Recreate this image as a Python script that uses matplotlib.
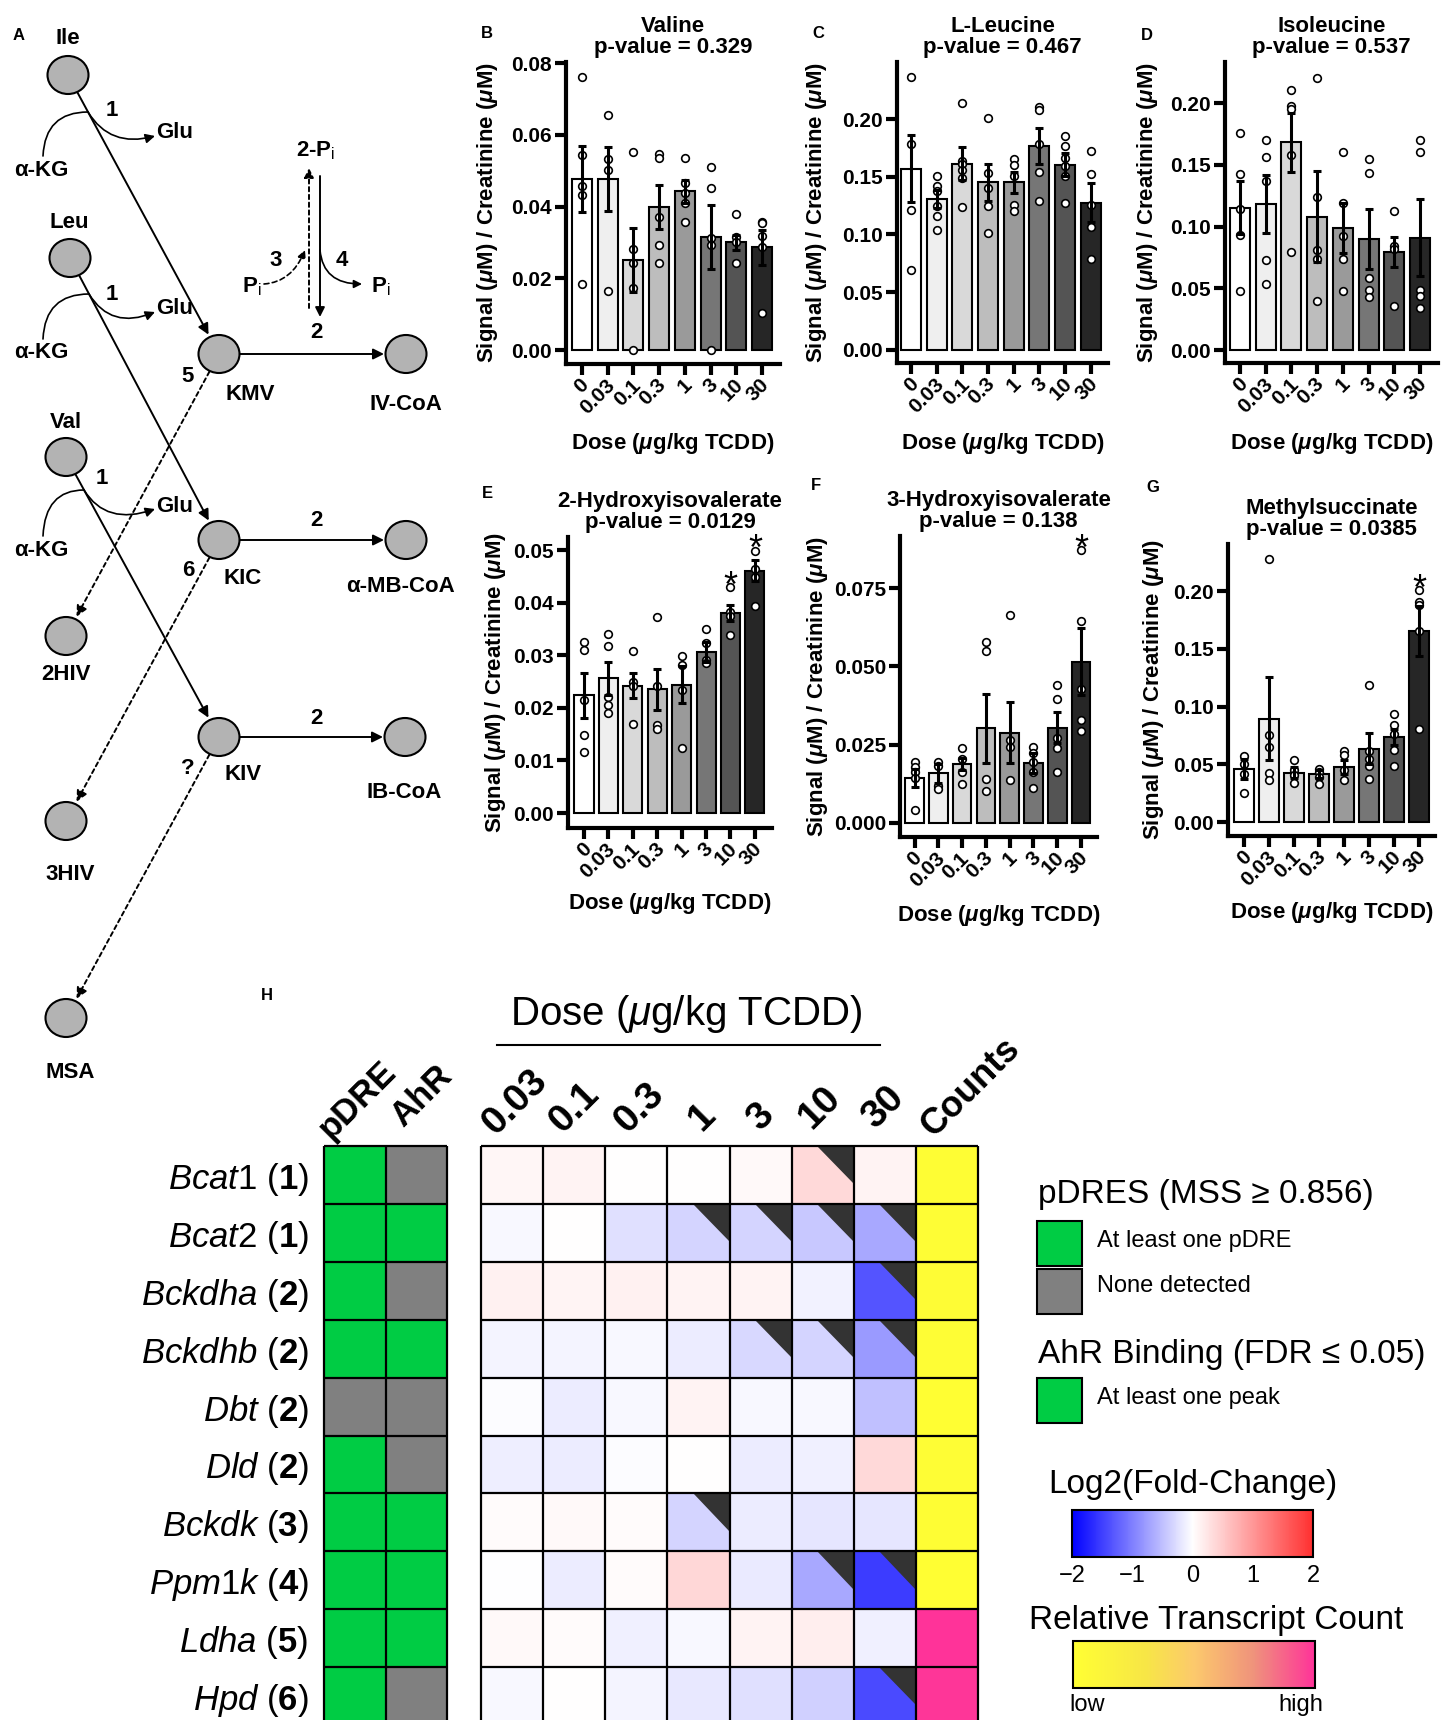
import numpy as np
import matplotlib
matplotlib.use('Agg')
import matplotlib.pyplot as plt
import matplotlib.transforms as mtransforms
from matplotlib.patches import Ellipse, Rectangle, Polygon, FancyArrowPatch
from matplotlib.path import Path
from matplotlib.colors import LinearSegmentedColormap, ListedColormap, Normalize
from matplotlib.cm import ScalarMappable

plt.rcParams['font.family'] = ['Liberation Sans', 'DejaVu Sans']
plt.rcParams['font.sans-serif'] = ['Liberation Sans']
plt.rcParams['mathtext.fontset'] = 'custom'
plt.rcParams['mathtext.rm'] = 'Liberation Sans'
plt.rcParams['mathtext.it'] = 'Liberation Sans:italic'
plt.rcParams['mathtext.bf'] = 'Liberation Sans:bold'
plt.rcParams['mathtext.bfit'] = 'Liberation Sans:italic:bold'

# ---------------- data ----------------
doses = ['0', '0.03', '0.1', '0.3', '1', '3', '10', '30']
bar_colors = ['#ffffff', '#efefef', '#d9d9d9', '#bdbdbd', '#9a9a9a', '#767676', '#545454', '#262626']

valine_mean = [0.0477, 0.0477, 0.0251, 0.0398, 0.0442, 0.0314, 0.0300, 0.0286]
valine_sem = [0.0093, 0.0089, 0.0089, 0.0062, 0.0031, 0.0089, 0.0022, 0.0049]
valine_pts = [[0.0761, 0.0544, 0.0456, 0.0433, 0.0184], [0.0656, 0.0532, 0.0502, 0.0165],
              [0.0553, 0.0281, 0.0242, 0.0172, 0.0], [0.0547, 0.0535, 0.037, 0.0293, 0.0242],
              [0.0535, 0.0467, 0.0439, 0.0411, 0.0358], [0.051, 0.0453, 0.0313, 0.0293, 0.0],
              [0.0379, 0.0314, 0.0302, 0.0242], [0.0358, 0.0355, 0.0318, 0.0286, 0.0102]]

leucine_mean = [0.157, 0.1306, 0.1613, 0.1451, 0.1451, 0.1763, 0.1604, 0.1277]
leucine_sem = [0.0288, 0.008, 0.0145, 0.0162, 0.009, 0.0156, 0.0101, 0.0169]
leucine_pts = [[0.2364, 0.1786, 0.1214, 0.0694], [0.1509, 0.1416, 0.1373, 0.1243, 0.1162, 0.104],
               [0.2139, 0.1633, 0.1613, 0.156, 0.149, 0.1237], [0.2009, 0.1532, 0.1402, 0.1248, 0.1012],
               [0.1653, 0.1604, 0.1503, 0.1257, 0.12], [0.2104, 0.2081, 0.1786, 0.1537, 0.1292],
               [0.1855, 0.1769, 0.1662, 0.159, 0.1503, 0.1277], [0.1725, 0.1526, 0.1257, 0.1061, 0.0786]]

isoleucine_mean = [0.1153, 0.118, 0.1684, 0.1078, 0.0989, 0.0897, 0.0795, 0.0911]
isoleucine_sem = [0.0212, 0.0236, 0.0239, 0.0368, 0.0202, 0.0244, 0.0124, 0.031]
isoleucine_pts = [[0.1757, 0.1428, 0.1145, 0.0935, 0.0477], [0.1698, 0.1563, 0.1366, 0.0728, 0.0531],
                  [0.2107, 0.1973, 0.1954, 0.1577, 0.0795], [0.2204, 0.124, 0.0808, 0.0733, 0.0396],
                  [0.1604, 0.1191, 0.0922, 0.0733, 0.0477], [0.155, 0.1434, 0.0585, 0.049, 0.0431],
                  [0.1127, 0.0841, 0.0822, 0.0356], [0.1703, 0.1604, 0.0485, 0.0437, 0.0337]]

hiv2_mean = [0.0224, 0.0256, 0.0242, 0.0235, 0.0244, 0.0307, 0.0381, 0.0461]
hiv2_sem = [0.0043, 0.0031, 0.0024, 0.0039, 0.0035, 0.0019, 0.0015, 0.002]
hiv2_pts = [[0.0326, 0.0311, 0.0215, 0.0149, 0.0117], [0.0341, 0.0318, 0.022, 0.0206, 0.0191],
            [0.0308, 0.025, 0.0242, 0.0169], [0.0372, 0.0242, 0.0168, 0.016],
            [0.0298, 0.0282, 0.0234, 0.0123], [0.035, 0.0324, 0.0291, 0.0285],
            [0.043, 0.0383, 0.0375, 0.0339], [0.0499, 0.0465, 0.0448, 0.0394]]

hiv3_mean = [0.0144, 0.0158, 0.0187, 0.0302, 0.0288, 0.019, 0.0304, 0.0515]
hiv3_sem = [0.0029, 0.003, 0.0019, 0.0109, 0.0098, 0.0032, 0.005, 0.0108]
hiv3_pts = [[0.0195, 0.0179, 0.0163, 0.0144, 0.0041], [0.0195, 0.0181, 0.0117, 0.011],
            [0.0238, 0.0203, 0.0163, 0.0126], [0.0579, 0.055, 0.0139, 0.0101],
            [0.0663, 0.0265, 0.0241, 0.0137], [0.0241, 0.0222, 0.0195, 0.0163, 0.0112],
            [0.0439, 0.0395, 0.0272, 0.0238, 0.0163], [0.087, 0.0646, 0.0427, 0.0329, 0.0294]]

msa_mean = [0.0462, 0.0896, 0.0428, 0.0413, 0.0477, 0.0636, 0.0737, 0.1653]
msa_sem = [0.0087, 0.0356, 0.005, 0.0036, 0.0058, 0.0136, 0.0072, 0.0217]
msa_pts = [[0.0569, 0.0506, 0.0419, 0.0251], [0.2277, 0.0751, 0.065, 0.0425, 0.0367],
           [0.054, 0.0448, 0.0405, 0.0338], [0.0462, 0.0433, 0.039, 0.0327],
           [0.0616, 0.0578, 0.0448, 0.0361], [0.1185, 0.0613, 0.0549, 0.0483, 0.0376],
           [0.0939, 0.0838, 0.0766, 0.0627, 0.0483], [0.2009, 0.1907, 0.1879, 0.1653, 0.0809]]

genes = ['Bcat1', 'Bcat2', 'Bckdha', 'Bckdhb', 'Dbt', 'Dld', 'Bckdk', 'Ppm1k', 'Ldha', 'Hpd']
gene_steps = [1, 1, 2, 2, 2, 2, 3, 4, 5, 6]
has_pdre = [1, 1, 1, 1, 0, 1, 1, 1, 1, 1]
has_ahr = [0, 1, 0, 1, 0, 0, 1, 1, 1, 0]
heat_doses = ['0.03', '0.1', '0.3', '1', '3', '10', '30']
log2fc = [
    [0.08, 0.12, 0.00, 0.00, 0.06, 0.36, 0.12],
    [-0.06, 0.00, -0.24, -0.33, -0.33, -0.43, -0.68],
    [0.14, 0.10, 0.14, 0.12, 0.12, -0.10, -1.33],
    [-0.08, -0.08, -0.06, -0.15, -0.30, -0.34, -0.79],
    [-0.02, -0.15, -0.05, 0.12, -0.05, -0.05, -0.50],
    [-0.14, -0.15, -0.03, 0.00, -0.15, -0.12, 0.36],
    [0.04, 0.06, 0.04, -0.34, -0.15, -0.20, -0.20],
    [-0.01, -0.15, 0.04, 0.38, -0.16, -0.68, -1.53],
    [0.06, 0.04, -0.12, -0.05, 0.12, 0.17, -0.12],
    [-0.05, 0.00, -0.08, -0.18, -0.24, -0.36, -1.42],
]
significant = [
    [0, 0, 0, 0, 0, 1, 0],
    [0, 0, 0, 1, 1, 1, 1],
    [0, 0, 0, 0, 0, 0, 1],
    [0, 0, 0, 0, 1, 1, 1],
    [0, 0, 0, 0, 0, 0, 0],
    [0, 0, 0, 0, 0, 0, 0],
    [0, 0, 0, 1, 0, 0, 0],
    [0, 0, 0, 0, 0, 1, 1],
    [0, 0, 0, 0, 0, 0, 0],
    [0, 0, 0, 0, 0, 0, 1],
]
rel_counts = [0.02, 0.03, 0.04, 0.03, 0.01, 0.03, 0.02, 0.01, 1.0, 0.99]

# ---------------- figure ----------------
W, H = 1450, 1720
fig = plt.figure(figsize=(W / 100, H / 100), dpi=100)


def px_axes(x0, y0, x1, y1):
    ax = fig.add_axes([x0 / W, 1 - y1 / H, (x1 - x0) / W, (y1 - y0) / H])
    ax.set_facecolor('none')
    return ax


ax0 = px_axes(0, 0, W, H)
ax0.set_xlim(0, W)
ax0.set_ylim(H, 0)
ax0.axis('off')

bold = dict(fontweight='bold', ha='center', va='center')

# ---------------- panel A: pathway ----------------
nodes = {'Ile': (68, 75), 'Leu': (70, 258), 'Val': (66, 457),
         'KMV': (219, 354), 'KIC': (219, 540), 'KIV': (219, 737),
         'IV-CoA': (406, 354), 'α-MB-CoA': (406, 540), 'IB-CoA': (405, 737),
         '2HIV': (66, 636), '3HIV': (66, 821), 'MSA': (66, 1018)}
node_labels = {'Ile': (68, 39), 'Leu': (69, 223), 'Val': (66, 423),
               'KMV': (250, 394), 'KIC': (243, 578), 'KIV': (243, 774),
               'IV-CoA': (406, 404), 'α-MB-CoA': (401, 587), 'IB-CoA': (404, 793),
               '2HIV': (66, 675), '3HIV': (70, 874), 'MSA': (70, 1072)}

for name, (x, y) in nodes.items():
    ax0.add_patch(Ellipse((x, y), 41, 38, fc='#b3b3b3', ec='black', lw=1.5, zorder=3))
    ax0.text(*node_labels[name], name, fontsize=16, **bold)

dots = (0, (2.2, 1.8))


def link(a, b, ls='-'):
    (x0, y0), (x1, y1) = nodes[a], nodes[b]
    d = np.hypot(x1 - x0, y1 - y0)
    ux, uy = (x1 - x0) / d, (y1 - y0) / d
    ax0.add_patch(FancyArrowPatch((x0 + ux * 20, y0 + uy * 20), (x1 - ux * 22, y1 - uy * 22),
                                  arrowstyle='-|>', mutation_scale=16, lw=1.4, ls=ls,
                                  color='black', shrinkA=0, shrinkB=0, zorder=2))


link('Ile', 'KMV')
link('Leu', 'KIC')
link('Val', 'KIV')
link('KMV', 'IV-CoA')
link('KIC', 'α-MB-CoA')
link('KIV', 'IB-CoA')
link('KMV', '2HIV', dots)
link('KIC', '3HIV', dots)
link('KIV', 'MSA', dots)

# transamination side reactions
for (jx, jy), akg, glu, one in [((88, 112), (41, 170), (175, 133), (112, 110)),
                                ((89, 294), (41, 353), (175, 309), (112, 294)),
                                ((84, 490), (41, 550), (175, 506), (102, 479))]:
    ax0.text(*akg, 'α-KG', fontsize=16, **bold)
    ax0.text(*glu, 'Glu', fontsize=16, **bold)
    ax0.text(*one, '1', fontsize=16, **bold)
    sx, sy = akg[0] + 2, akg[1] - 14
    arc = Path([(sx, sy), (sx + 2, jy), (jx, jy)], [Path.MOVETO, Path.CURVE3, Path.CURVE3])
    ax0.add_patch(FancyArrowPatch(path=arc, arrowstyle='-', lw=1.2, color='black'))
    out = Path([(jx, jy), (jx + 22, jy + 36), (glu[0] - 20, glu[1] + 3)],
               [Path.MOVETO, Path.CURVE3, Path.CURVE3])
    ax0.add_patch(FancyArrowPatch(path=out, arrowstyle='-|>', mutation_scale=14, lw=1.2, color='black'))

for xy, t in [((316, 333), '2'), ((316, 520), '2'), ((316, 718), '2'),
              ((188, 377), '5'), ((188, 570), '6'), ((188, 768), '?'),
              ((276, 261), '3'), ((342, 261), '4')]:
    ax0.text(*xy, t, fontsize=16, **bold)

# phosphorylation cycle of step 2
ax0.text(316, 151, '2-P$_{\\mathrm{i}}$', fontsize=16, **bold)
ax0.text(252, 287, 'P$_{\\mathrm{i}}$', fontsize=16, **bold)
ax0.text(381, 287, 'P$_{\\mathrm{i}}$', fontsize=16, **bold)
ax0.add_patch(FancyArrowPatch((309, 308), (309, 168), arrowstyle='-|>', mutation_scale=14,
                              lw=1.4, ls=dots, color='black', shrinkA=0, shrinkB=0))
ax0.add_patch(FancyArrowPatch((320, 176), (320, 317), arrowstyle='-|>', mutation_scale=14,
                              lw=1.4, color='black', shrinkA=0, shrinkB=0))
p3 = Path([(264, 284), (292, 282), (305, 250)], [Path.MOVETO, Path.CURVE3, Path.CURVE3])
ax0.add_patch(FancyArrowPatch(path=p3, arrowstyle='-|>', mutation_scale=12, lw=1.2,
                              ls=(0, (3, 2)), color='black'))
p4 = Path([(320, 250), (323, 284), (362, 284)], [Path.MOVETO, Path.CURVE3, Path.CURVE3])
ax0.add_patch(FancyArrowPatch(path=p4, arrowstyle='-|>', mutation_scale=12, lw=1.2, color='black'))

for xy, t in [((19, 35), 'A'), ((487, 33), 'B'), ((818, 33), 'C'), ((1147, 35), 'D'),
              ((487, 493), 'E'), ((816, 486), 'F'), ((1153, 487), 'G'), ((267, 996), 'H')]:
    ax0.text(*xy, t, fontsize=12, **bold)

# ---------------- panels B-G: bar charts ----------------
ylab = 'Signal ($\\mathbfit{\\mu}$M) / Creatinine ($\\mathbfit{\\mu}$M)'
xlab = 'Dose ($\\mathbfit{\\mu}$g/kg TCDD)'

panels = [
    dict(rect=(566, 62, 780, 364), title='Valine', p='0.329', mean=valine_mean, sem=valine_sem,
         pts=valine_pts, ylim=(-0.0039, 0.0803), yticks=np.arange(0, 0.081, 0.02), fmt='{:.2f}',
         xlim=(-0.62, 7.70), ylo=79, xlo=79, sig=[]),
    dict(rect=(897, 62, 1108, 363), title='L-Leucine', p='0.467', mean=leucine_mean, sem=leucine_sem,
         pts=leucine_pts, ylim=(-0.0113, 0.2494), yticks=np.arange(0, 0.21, 0.05), fmt='{:.2f}',
         xlim=(-0.545, 7.67), ylo=80, xlo=80, sig=[]),
    dict(rect=(1225, 62, 1438, 363), title='Isoleucine', p='0.537', mean=isoleucine_mean,
         sem=isoleucine_sem, pts=isoleucine_pts, ylim=(-0.0105, 0.2332),
         yticks=np.arange(0, 0.21, 0.05), fmt='{:.2f}', xlim=(-0.584, 7.70), ylo=78, xlo=80, sig=[]),
    dict(rect=(568, 537, 772, 828), title='2-Hydroxyisovalerate', p='0.0129', mean=hiv2_mean,
         sem=hiv2_sem, pts=hiv2_pts, ylim=(-0.00285, 0.0525), yticks=np.arange(0, 0.051, 0.01),
         fmt='{:.2f}', xlim=(-0.656, 7.70), ylo=73, xlo=75, sig=[6, 7]),
    dict(rect=(900, 536, 1097, 837), title='3-Hydroxyisovalerate', p='0.138', mean=hiv3_mean,
         sem=hiv3_sem, pts=hiv3_pts, ylim=(-0.00447, 0.0916), yticks=np.arange(0, 0.076, 0.025),
         fmt='{:.3f}', xlim=(-0.61, 7.67), ylo=82, xlo=78, sig=[7]),
    dict(rect=(1228, 544, 1435, 836), title='Methylsuccinate', p='0.0385', mean=msa_mean,
         sem=msa_sem, pts=msa_pts, ylim=(-0.0121, 0.2407), yticks=np.arange(0, 0.21, 0.05),
         fmt='{:.2f}', xlim=(-0.64, 7.64), ylo=75, xlo=77, sig=[7]),
]

for pnl in panels:
    x0, y0, x1, y1 = pnl['rect']
    ax = px_axes(x0, y0, x1, y1)
    x = np.arange(len(doses))
    ax.bar(x, pnl['mean'], width=0.78, color=bar_colors, edgecolor='black', linewidth=1.5, zorder=2)
    for i, p in enumerate(pnl['pts']):
        ax.plot(np.full(len(p), i), p, 'o', ms=5.5, mfc='white', mec='black', mew=1.2,
                zorder=3, clip_on=False)
    ax.errorbar(x, pnl['mean'], yerr=pnl['sem'], fmt='none', ecolor='black', elinewidth=2.2,
                capsize=3, capthick=2.2, zorder=4)
    for i in pnl['sig']:
        ax.annotate('*', xy=(i, max(pnl['pts'][i])), xytext=(0, -7), textcoords='offset points',
                    ha='center', va='baseline', fontsize=26, annotation_clip=False)
    ax.set_xlim(*pnl['xlim'])
    ax.set_ylim(*pnl['ylim'])
    for s in ['top', 'right']:
        ax.spines[s].set_visible(False)
    for s in ['left', 'bottom']:
        ax.spines[s].set_linewidth(3)
        ax.spines[s].set_capstyle('projecting')
    ax.set_yticks(pnl['yticks'], labels=[pnl['fmt'].format(v) for v in pnl['yticks']],
                  fontsize=15, fontweight='bold')
    ax.set_xticks(x, labels=doses, fontsize=15, fontweight='bold', rotation=45,
                  ha='right', va='center', rotation_mode='anchor')
    ax.tick_params(width=3, length=8)
    ax.tick_params(axis='y', pad=2)
    ax.tick_params(axis='x', pad=5)
    shift = mtransforms.ScaledTranslation(0.04, 0, fig.dpi_scale_trans)
    for lbl in ax.get_xticklabels():
        lbl.set_transform(lbl.get_transform() + shift)
    ax.annotate(f"{pnl['title']}\np-value = {pnl['p']}", xy=(0.5, 1), xycoords='axes fraction',
                xytext=(0, 3), textcoords='offset points', ha='center', va='bottom',
                fontsize=16, fontweight='bold', linespacing=1.0)
    ax.set_xlabel(xlab, fontsize=16, fontweight='bold', va='center')
    ax.xaxis.set_label_coords(0.5, -pnl['xlo'] / (y1 - y0))
    ax.set_ylabel(ylab, fontsize=16, fontweight='bold', va='center')
    ax.yaxis.set_label_coords(-pnl['ylo'] / (x1 - x0), 0.5)

# ---------------- panel H: heatmap ----------------
row_h = 57.9
top = 1146
fc_cmap = LinearSegmentedColormap.from_list('fc', ['#0000ff', '#ffffff', '#ff3030'])
fc_norm = Normalize(-2, 2)
count_cmap = LinearSegmentedColormap.from_list(
    'cnt', [(0, '#ffff33'), (0.3, '#f7e646'), (0.5, '#fcc96c'), (0.75, '#ef927c'), (1, '#ff3399')])

axl = px_axes(324, top, 447, top + 10 * row_h)
axl.pcolormesh(np.arange(3), np.arange(11), np.column_stack([has_pdre, has_ahr]),
               cmap=ListedColormap(['#808080', '#00cc44']), vmin=0, vmax=1)
axl.set_xlim(0, 2)
axl.set_ylim(10, 0)

axh = px_axes(481, top, 978, top + 10 * row_h)
axh.pcolormesh(np.arange(8), np.arange(11), np.array(log2fc), cmap=fc_cmap, norm=fc_norm)
axh.pcolormesh([7, 8], np.arange(11), np.array(rel_counts)[:, None], cmap=count_cmap, vmin=0, vmax=1)
axh.set_xlim(0, 8)
axh.set_ylim(10, 0)
for i, row in enumerate(significant):
    for j, s in enumerate(row):
        if s:
            axh.add_patch(Polygon([(j + 0.41, i), (j + 1, i), (j + 1, i + 0.66)],
                                  closed=True, fc='#333333', ec='none', zorder=2))

for a, ncol in [(axl, 2), (axh, 8)]:
    a.hlines(np.arange(11), 0, ncol, color='black', lw=1.6, zorder=3, clip_on=False)
    a.vlines(np.arange(ncol + 1), 0, 10, color='black', lw=1.6, zorder=3, clip_on=False)
    a.set_xticks([])
    for s in a.spines.values():
        s.set_visible(False)
axh.set_yticks([])
axl.set_yticks(np.arange(10) + 0.5,
               labels=[f'$\\mathit{{{g}}}$ ($\\mathbf{{{s}}}$)' for g, s in zip(genes, gene_steps)],
               fontsize=25)
axl.tick_params(axis='y', length=0, pad=11)

hdr = dict(rotation=45, rotation_mode='anchor', ha='center', va='center',
           fontweight='bold', clip_on=False)
for j, (lab, dx, dy) in enumerate([('pDRE', 0.04, -0.8), ('AhR', 0.08, -0.86)]):
    axl.text(j + 0.5 + dx, dy, lab, fontsize=25, **hdr)
hdr_offsets = [(0.05, -0.76), (0.0, -0.66), (0.05, -0.66), (0.06, -0.5),
               (0.0, -0.5), (-0.05, -0.66), (-0.02, -0.66), (0.38, -1.02)]
for j, (lab, (dx, dy)) in enumerate(zip(heat_doses + ['Counts'], hdr_offsets)):
    axh.text(j + 0.5 + dx, dy, lab, fontsize=26 if lab == 'Counts' else 28, **hdr)

ax0.text(686, 1014, 'Dose ($\\mathit{\\mu}$g/kg TCDD)', fontsize=29, ha='center', va='center')
ax0.plot([497, 880], [1045, 1045], color='black', lw=1.5)

# ---------------- legends ----------------
green, grey = '#00cc44', '#808080'
ax0.text(1038, 1195, 'pDRES (MSS ≥ 0.856)', fontsize=24, ha='left', va='center')
ax0.add_patch(Rectangle((1037, 1221), 45, 45, fc=green, ec='black', lw=1.5))
ax0.text(1097, 1241, 'At least one pDRE', fontsize=17, ha='left', va='center')
ax0.add_patch(Rectangle((1037, 1269), 45, 45, fc=grey, ec='black', lw=1.5))
ax0.text(1097, 1286, 'None detected', fontsize=17, ha='left', va='center')
ax0.text(1038, 1354, 'AhR Binding (FDR ≤ 0.05)', fontsize=24, ha='left', va='center')
ax0.add_patch(Rectangle((1037, 1378), 45, 45, fc=green, ec='black', lw=1.5))
ax0.text(1097, 1398, 'At least one peak', fontsize=17, ha='left', va='center')

ax0.text(1193, 1484, 'Log2(Fold-Change)', fontsize=24, ha='center', va='center')
cax = px_axes(1072, 1510, 1313, 1557)
cb = fig.colorbar(ScalarMappable(norm=fc_norm, cmap=fc_cmap), cax=cax, orientation='horizontal',
                  ticks=[-2, -1, 0, 1, 2])
cb.ax.tick_params(length=0, labelsize=17, pad=6)
cb.outline.set_linewidth(1.5)

ax0.text(1216, 1621, 'Relative Transcript Count', fontsize=24, ha='center', va='center')
cax2 = px_axes(1073, 1641, 1315, 1688)
cb2 = fig.colorbar(ScalarMappable(norm=Normalize(0, 1), cmap=count_cmap), cax=cax2,
                   orientation='horizontal', ticks=[0.06, 0.94])
cb2.ax.set_xticklabels(['low', 'high'])
cb2.ax.tick_params(length=0, labelsize=17, pad=4)
cb2.outline.set_linewidth(1.5)

fig.savefig('out.png', dpi=100)
